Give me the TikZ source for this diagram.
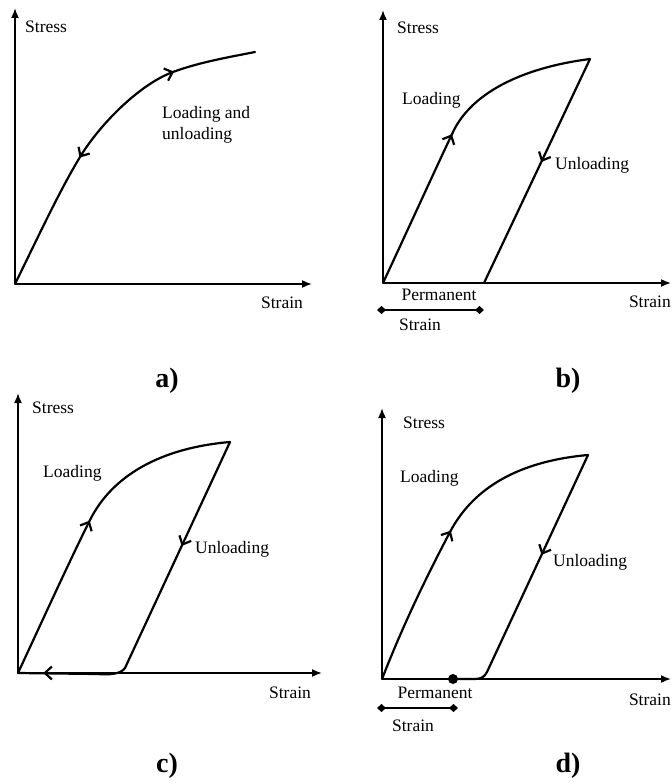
\documentclass[tikz,border=0pt]{standalone}
\usepackage{fontspec}
\setmainfont{Liberation Serif}
\usepackage{tikz}
\usetikzlibrary{arrows.meta, decorations.markings}
\tikzset{
  axis/.style={line width=1.7pt, -{Latex[length=10pt, width=8pt]}},
  curve/.style={line width=2.2pt, line join=round, line cap=round},
  fwdmark/.style={postaction={decorate, decoration={markings,
      mark=at position #1 with {\arrow{Straight Barb[length=7pt, width=13pt]}}}}},
  backmark/.style={postaction={decorate, decoration={markings,
      mark=at position #1 with {\arrowreversed{Straight Barb[length=7pt, width=13pt]}}}}},
  permline/.style={line width=1.6pt, {Diamond[length=9pt, width=8pt]}-{Diamond[length=9pt, width=8pt]}},
  lbl/.style={font=\fontsize{17.5}{21}\selectfont, inner sep=0pt},
  panelcap/.style={font=\fontsize{28}{32}\selectfont\bfseries, inner sep=0pt}
}

\begin{document}
\begin{tikzpicture}[x=1pt, y=-1pt]
\useasboundingbox (0,0) rectangle (671,783);

% ── a) loading and unloading along the same curve ───────────────────────────
\coordinate (oA) at (15,284);
\coordinate (yA) at (15,8);
\coordinate (xA) at (312,284);
\draw[axis] (oA) -- (yA);
\draw[axis] (oA) -- (xA);
\draw[curve, fwdmark=0.765, backmark=0.40] (oA)
  .. controls (40,233) and (60,190) .. (80,157)
  .. controls (100,124) and (140,84) .. (173,72)
  .. controls (200,62) and (230,57) .. (255,52);
\node[lbl, anchor=west] (stressA) at (25,27) {Stress};
\node[lbl] (strainA) at (282,303) {Strain};
\node[lbl, anchor=west, align=left] (noteA) at (162,125) {Loading and\\unloading};
\node[panelcap] (capA) at (167,381) {a)};

% ── b) permanent strain after unloading ─────────────────────────────────────
\coordinate (oB) at (383,283);
\coordinate (yB) at (383,10);
\coordinate (xB) at (671,283);
\coordinate (topB) at (590,59);
\coordinate (endB) at (484,283);
\draw[axis] (oB) -- (yB);
\draw[axis] (oB) -- (xB);
\draw[curve, fwdmark=0.50] (oB)
  .. controls (410,225) and (435,170) .. (453,132)
  .. controls (471,94) and (520,68) .. (topB);
\draw[curve, fwdmark=0.46] (topB) -- (endB);
\node[lbl, anchor=west] (stressB) at (397,28) {Stress};
\node[lbl, anchor=west] (loadB) at (402,100) {Loading};
\node[lbl, anchor=west] (unloadB) at (555,165) {Unloading};
\node[lbl, anchor=east] (strainB) at (671,302) {Strain};
\coordinate (pLB) at (377,310);
\coordinate (pRB) at (484,310);
\draw[permline] (pLB) -- (pRB);
\node[lbl] (permB) at (439,295) {Permanent};
\node[lbl] (pstrainB) at (420,325) {Strain};
\node[panelcap] (capB) at (568,381) {b)};

% ── c) unloading back to the origin ─────────────────────────────────────────
\coordinate (oC) at (18,673);
\coordinate (yC) at (18,393);
\coordinate (xC) at (322,673);
\coordinate (topC) at (230,442);
\coordinate (footC) at (125,668);
\draw[axis] (oC) -- (yC);
\draw[axis] (oC) -- (xC);
\draw[curve, fwdmark=0.50] (oC)
  .. controls (45,615) and (70,560) .. (90,520)
  .. controls (112,476) and (160,448) .. (topC);
\draw[curve, fwdmark=0.46] (topC) -- (footC);
\draw[curve] (footC) .. controls (121,674) and (110,675) .. (97,674) -- (oC);
\draw[curve, fwdmark=0.68] (97,673) -- (oC);
\node[lbl, anchor=west] (stressC) at (32,408) {Stress};
\node[lbl, anchor=west] (loadC) at (43,473) {Loading};
\node[lbl, anchor=west] (unloadC) at (195,549) {Unloading};
\node[lbl] (strainC) at (290,693) {Strain};
\node[panelcap] (capC) at (167,766) {c)};

% ── d) permanent strain with recovery ───────────────────────────────────────
\coordinate (oD) at (382,679);
\coordinate (yD) at (382,408);
\coordinate (xD) at (671,679);
\coordinate (topD) at (588,455);
\coordinate (footD) at (487,672);
\coordinate (dotD) at (453,679);
\draw[axis] (oD) -- (yD);
\draw[axis] (oD) -- (xD);
\draw[curve, fwdmark=0.50] (oD)
  .. controls (405,620) and (430,570) .. (450,532)
  .. controls (470,494) and (510,462) .. (topD);
\draw[curve, fwdmark=0.46] (topD) -- (footD);
\draw[curve] (footD) .. controls (484,678) and (480,679) .. (474,679) -- (dotD);
\fill (dotD) circle (5pt);
\node[lbl, anchor=west] (stressD) at (403,423) {Stress};
\node[lbl, anchor=west] (loadD) at (400,478) {Loading};
\node[lbl, anchor=west] (unloadD) at (553,562) {Unloading};
\node[lbl, anchor=east] (strainD) at (671,700) {Strain};
\coordinate (pLD) at (377,708);
\coordinate (pRD) at (458,708);
\draw[permline] (pLD) -- (pRD);
\node[lbl] (permD) at (435,693) {Permanent};
\node[lbl] (pstrainD) at (413,726) {Strain};
\node[panelcap] (capD) at (568,766) {d)};

\end{tikzpicture}
\end{document}
